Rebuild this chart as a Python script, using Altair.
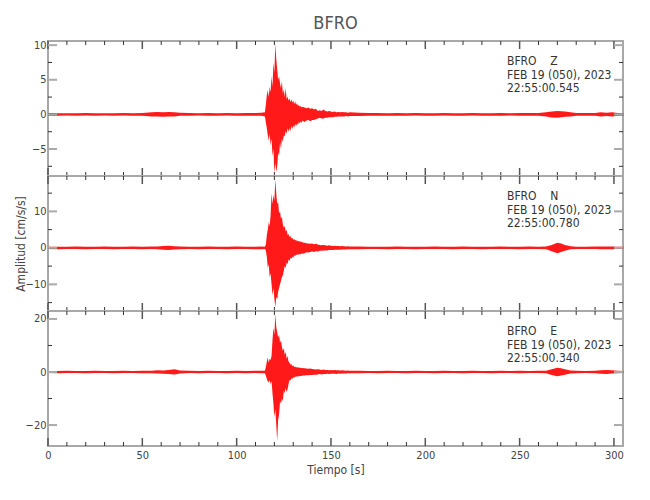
import altair as alt
import pandas as pd

FONT = "Liberation Sans Narrow, DejaVu Sans Condensed, sans-serif"
RED = "#ff0000"

# ---- time axis of the envelope knots (s) ----
TIME_PRE = [0, 5, 10, 15, 20, 25, 30, 35, 40, 45, 50, 55, 58, 61, 64, 67, 70,
            75, 80, 85, 90, 95, 100, 105, 110, 113]
TIME_EVENT = [115, 115.5, 116, 116.5, 117, 117.5, 118, 118.5, 119, 119.5, 120,
              120.5, 121, 121.5, 122, 122.5, 123, 123.5, 124, 124.5, 125, 125.5,
              126, 126.5, 127, 127.5, 128, 128.5, 129, 129.5, 130, 130.5, 131,
              131.5, 132, 132.5, 133, 133.5, 134, 134.5, 135]
TIME_CODA = [136, 137, 138, 139, 140, 141, 142, 143, 144, 145, 146, 147, 148,
             149, 150, 151, 152, 153, 154, 155, 156, 157, 158, 159, 160]
TIME_POST = [165, 170, 175, 180, 185, 190, 195, 200, 205, 210, 215, 220, 225,
             230, 235, 240, 245, 250, 255, 260,
             264, 267, 270, 272, 274, 277, 280,
             285, 290, 293, 296, 299, 302, 305]

# ---- Z component: upper / lower envelope (cm/s/s) ----
Z_UP_PRE = [0.15, 0.15, 0.18, 0.15, 0.2, 0.15, 0.18, 0.15, 0.2, 0.18, 0.2, 0.3, 0.35,
            0.3, 0.35, 0.3, 0.25, 0.2, 0.18, 0.2, 0.15, 0.2, 0.18, 0.2, 0.2, 0.25]
Z_LO_PRE = [-0.15, -0.18, -0.15, -0.18, -0.15, -0.2, -0.15, -0.18, -0.15, -0.2, -0.18,
            -0.3, -0.3, -0.35, -0.3, -0.3, -0.2, -0.2, -0.15, -0.18, -0.2, -0.15, -0.2,
            -0.18, -0.2, -0.2]
Z_UP_EVENT = [0.3, 1.5, 2.8, 3.5, 2.5, 4.0, 3.2, 5.5, 4.0, 7.5, 6.0, 10.2, 8.0, 6.5,
              5.0, 5.5, 4.5, 3.8, 4.8, 3.0, 3.6, 2.5, 3.8, 2.2, 2.6, 2.0, 2.3, 1.8,
              2.2, 1.7, 2.0, 1.5, 1.9, 1.4, 1.6, 1.2, 1.4, 1.1, 1.2, 1.0, 1.1]
Z_LO_EVENT = [-0.3, -1.2, -2.0, -3.0, -3.8, -2.8, -4.5, -3.5, -6.0, -5.0, -8.5, -7.0,
              -8.3, -7.5, -5.5, -6.0, -4.0, -5.0, -3.5, -4.0, -3.0, -3.2, -2.4, -2.8,
              -2.0, -2.5, -2.0, -2.4, -1.7, -2.1, -1.6, -1.9, -1.4, -1.7, -1.3, -1.5,
              -1.1, -1.3, -1.0, -1.2, -0.9]
Z_UP_CODA = [1.0, 0.9, 1.0, 0.8, 0.9, 0.7, 0.8, 0.5, 0.6, 0.5, 0.7, 0.5, 0.4, 0.5,
             0.4, 0.35, 0.4, 0.3, 0.35, 0.3, 0.35, 0.3, 0.3, 0.25, 0.3]
Z_LO_CODA = [-1.1, -0.9, -0.8, -1.0, -0.8, -0.8, -0.7, -0.6, -0.5, -0.6, -0.6, -0.5,
             -0.5, -0.4, -0.4, -0.4, -0.35, -0.35, -0.3, -0.3, -0.3, -0.3, -0.25,
             -0.3, -0.25]
Z_UP_POST = [0.25, 0.2, 0.2, 0.18, 0.2, 0.18, 0.2, 0.15, 0.18, 0.2, 0.15, 0.18, 0.2,
             0.18, 0.15, 0.2, 0.18, 0.2, 0.2, 0.2,
             0.3, 0.4, 0.5, 0.45, 0.4, 0.3, 0.2,
             0.2, 0.2, 0.3, 0.25, 0.3, 0.2, 0.18]
Z_LO_POST = [-0.25, -0.2, -0.18, -0.2, -0.18, -0.2, -0.15, -0.2, -0.18, -0.15, -0.2,
             -0.18, -0.15, -0.2, -0.18, -0.2, -0.15, -0.2, -0.18, -0.2,
             -0.3, -0.45, -0.5, -0.4, -0.35, -0.3, -0.2,
             -0.18, -0.2, -0.3, -0.25, -0.3, -0.2, -0.18]

# ---- N component ----
N_UP_PRE = [0.3, 0.3, 0.3, 0.35, 0.3, 0.3, 0.35, 0.3, 0.3, 0.35, 0.3, 0.35, 0.4, 0.5,
            0.6, 0.45, 0.35, 0.3, 0.3, 0.35, 0.3, 0.3, 0.35, 0.3, 0.3, 0.35]
N_LO_PRE = [-0.3, -0.35, -0.3, -0.3, -0.35, -0.3, -0.3, -0.35, -0.3, -0.3, -0.35, -0.3,
            -0.4, -0.5, -0.6, -0.45, -0.35, -0.3, -0.35, -0.3, -0.3, -0.35, -0.3, -0.3,
            -0.35, -0.35]
N_UP_EVENT = [0.3, 1.0, 3.5, 5.0, 7.0, 6.0, 9.0, 15.0, 12.0, 14.5, 13.0, 18.8, 15.0,
              12.0, 12.5, 9.5, 10.0, 8.0, 8.5, 6.5, 5.5, 6.0, 4.5, 5.0, 3.5, 3.8, 3.0,
              3.3, 2.6, 2.8, 2.2, 2.4, 2.0, 2.2, 1.8, 2.0, 1.7, 1.9, 1.6, 1.7, 1.5]
N_LO_EVENT = [-0.3, -0.8, -2.5, -5.5, -4.5, -8.0, -7.0, -10.0, -13.0, -11.0, -14.0,
              -16.2, -13.5, -14.0, -12.0, -11.0, -10.0, -9.0, -8.0, -7.5, -6.3, -5.0,
              -5.5, -4.0, -4.5, -3.2, -3.6, -2.8, -3.0, -2.4, -2.7, -2.0, -2.3, -1.8,
              -2.0, -1.7, -1.9, -1.6, -1.8, -1.5, -1.6]
N_UP_CODA = [1.4, 1.3, 1.2, 1.1, 1.2, 1.0, 1.1, 0.9, 0.8, 0.7, 0.8, 0.7, 0.6, 0.7,
             0.6, 0.5, 0.6, 0.5, 0.5, 0.45, 0.5, 0.45, 0.4, 0.45, 0.4]
N_LO_CODA = [-1.5, -1.2, -1.3, -1.1, -1.0, -1.1, -0.9, -1.0, -0.8, -0.8, -0.7, -0.7,
             -0.7, -0.6, -0.6, -0.6, -0.5, -0.5, -0.5, -0.5, -0.45, -0.45, -0.45,
             -0.4, -0.4]
N_UP_POST = [0.35, 0.3, 0.3, 0.3, 0.35, 0.3, 0.3, 0.3, 0.35, 0.3, 0.3, 0.35, 0.3, 0.3,
             0.3, 0.35, 0.3, 0.3, 0.35, 0.3,
             0.35, 0.8, 1.4, 1.2, 0.8, 0.45, 0.3,
             0.3, 0.35, 0.4, 0.35, 0.4, 0.3, 0.3]
N_LO_POST = [-0.35, -0.3, -0.3, -0.35, -0.3, -0.3, -0.35, -0.3, -0.3, -0.3, -0.35,
             -0.3, -0.3, -0.35, -0.3, -0.3, -0.3, -0.35, -0.3, -0.3,
             -0.35, -0.9, -1.5, -1.1, -0.8, -0.4, -0.3,
             -0.3, -0.3, -0.4, -0.35, -0.4, -0.3, -0.3]

# ---- E component ----
E_UP_PRE = [0.4, 0.4, 0.45, 0.4, 0.4, 0.45, 0.4, 0.4, 0.45, 0.4, 0.45, 0.5, 0.7, 0.6,
            0.8, 1.0, 0.6, 0.45, 0.4, 0.45, 0.4, 0.4, 0.45, 0.4, 0.45, 0.5]
E_LO_PRE = [-0.4, -0.45, -0.4, -0.4, -0.45, -0.4, -0.4, -0.45, -0.4, -0.4, -0.45,
            -0.5, -0.6, -0.7, -0.8, -0.9, -0.6, -0.4, -0.45, -0.4, -0.4, -0.45, -0.4,
            -0.45, -0.4, -0.5]
E_UP_EVENT = [0.5, 2.0, 4.0, 5.5, 3.5, 5.0, 4.5, 6.0, 12.0, 16.7, 14.0, 21.8, 17.0,
              15.0, 13.0, 14.0, 11.0, 12.0, 9.5, 8.0, 9.0, 6.5, 7.5, 5.0, 6.0, 4.0,
              3.5, 2.8, 3.0, 2.2, 2.5, 1.9, 2.1, 1.7, 1.9, 1.6, 1.8, 1.5, 1.6, 1.4, 1.5]
E_LO_EVENT = [-0.5, -1.5, -2.5, -3.5, -4.0, -3.0, -4.5, -3.5, -8.0, -12.0, -17.0,
              -14.0, -20.0, -26.0, -18.0, -16.0, -11.0, -12.0, -10.0, -11.0, -7.0,
              -8.0, -6.0, -7.5, -6.5, -4.5, -3.0, -3.2, -2.4, -2.6, -2.0, -2.2, -1.7,
              -1.9, -1.5, -1.8, -1.5, -1.6, -1.4, -1.5, -1.3]
E_UP_CODA = [1.4, 1.3, 1.2, 1.3, 1.1, 1.0, 0.9, 1.0, 0.9, 0.8, 0.9, 0.8, 0.8, 0.7,
             0.8, 0.7, 0.8, 0.7, 0.7, 0.6, 0.7, 0.6, 0.5, 0.6, 0.5]
E_LO_CODA = [-1.3, -1.2, -1.2, -1.1, -1.1, -1.0, -1.0, -0.9, -0.8, -0.9, -0.8, -0.8,
             -0.7, -0.8, -0.7, -0.7, -0.7, -0.8, -0.6, -0.7, -0.6, -0.6, -0.6, -0.5,
             -0.5]
E_UP_POST = [0.45, 0.4, 0.4, 0.45, 0.4, 0.4, 0.45, 0.4, 0.4, 0.45, 0.4, 0.4, 0.45,
             0.4, 0.4, 0.45, 0.4, 0.45, 0.4, 0.45,
             0.5, 1.0, 1.6, 1.4, 1.0, 0.6, 0.45,
             0.4, 0.5, 0.7, 0.8, 0.7, 0.5, 0.4]
E_LO_POST = [-0.45, -0.4, -0.45, -0.4, -0.4, -0.45, -0.4, -0.4, -0.45, -0.4, -0.4,
             -0.45, -0.4, -0.4, -0.45, -0.4, -0.4, -0.45, -0.4, -0.4,
             -0.5, -1.1, -1.6, -1.3, -1.0, -0.6, -0.45,
             -0.4, -0.5, -0.7, -0.8, -0.6, -0.5, -0.4]

# short dark stretch at the start of each trace
BLACK_T = [0, 4]
BLACK_V = [0, 0]

X_DOMAIN = [0, 304.8]
X_MAJOR = [0, 50, 100, 150, 200, 250, 300]
X_MINOR = [10, 20, 30, 40, 60, 70, 80, 90, 110, 120, 130, 140, 160, 170, 180, 190,
           210, 220, 230, 240, 260, 270, 280, 290]

Z_DOMAIN = [-8.9, 10.6]
Z_MAJOR = [-5, 0, 5, 10]
Z_MINOR = [-7.5, -2.5, 2.5, 7.5]
N_DOMAIN = [-17.3, 19.7]
N_MAJOR = [-10, 0, 10]
N_MINOR = [-15, -5, 5, 15]
E_DOMAIN = [-27.9, 23.0]
E_MAJOR = [-20, 0, 20]
E_MINOR = [-10, 10]

Z_TEXT = ["BFRO\u00a0\u00a0\u00a0\u00a0Z", "FEB 19 (050), 2023", "22:55:00.545"]
N_TEXT = ["BFRO\u00a0\u00a0\u00a0\u00a0N", "FEB 19 (050), 2023", "22:55:00.780"]
E_TEXT = ["BFRO\u00a0\u00a0\u00a0\u00a0E", "FEB 19 (050), 2023", "22:55:00.340"]

TIME = TIME_PRE + TIME_EVENT + TIME_CODA + TIME_POST

PANELS = [
    dict(up=Z_UP_PRE + Z_UP_EVENT + Z_UP_CODA + Z_UP_POST,
         lo=Z_LO_PRE + Z_LO_EVENT + Z_LO_CODA + Z_LO_POST,
         domain=Z_DOMAIN, major=Z_MAJOR, minor=Z_MINOR, text=Z_TEXT),
    dict(up=N_UP_PRE + N_UP_EVENT + N_UP_CODA + N_UP_POST,
         lo=N_LO_PRE + N_LO_EVENT + N_LO_CODA + N_LO_POST,
         domain=N_DOMAIN, major=N_MAJOR, minor=N_MINOR, text=N_TEXT),
    dict(up=E_UP_PRE + E_UP_EVENT + E_UP_CODA + E_UP_POST,
         lo=E_LO_PRE + E_LO_EVENT + E_LO_CODA + E_LO_POST,
         domain=E_DOMAIN, major=E_MAJOR, minor=E_MINOR, text=E_TEXT),
]

W, H = 575, 135
MAJ_LEN, MIN_LEN = 8, 4


def build(i, p):
    xs = alt.Scale(domain=X_DOMAIN, nice=False, zero=False)
    ys = alt.Scale(domain=p["domain"], nice=False, zero=False)
    df = pd.DataFrame({"t": TIME, "up": p["up"], "lo": p["lo"]})
    last = i == 2
    if last:
        xaxis = alt.Axis(values=X_MAJOR, ticks=False, domain=False, grid=False,
                         title="Tiempo [s]", labelPadding=3, titlePadding=4,
                         labelFlush=False, format="d")
    else:
        xaxis = alt.Axis(values=X_MAJOR, ticks=False, domain=False, grid=False,
                         labels=False, title=None)
    if i == 1:
        yaxis = alt.Axis(values=p["major"], ticks=False, domain=False, grid=False,
                         title="Amplitud [cm/s/s]", titleX=-21,
                         labelPadding=2, format="d")
    else:
        yaxis = alt.Axis(values=p["major"], ticks=False, domain=False, grid=False,
                         title=None, labelPadding=2, format="d")
    X = lambda f: alt.X(f, scale=xs, axis=xaxis)
    Y = lambda f: alt.Y(f, scale=ys, axis=yaxis)

    area = alt.Chart(df).mark_area(color=RED, opacity=0.9).encode(
        x=X("t:Q"), y=Y("up:Q"), y2="lo:Q")
    black = alt.Chart(pd.DataFrame({"t": BLACK_T, "up": BLACK_V})).mark_line(
        color="#000000", strokeWidth=1.5).encode(x=X("t:Q"), y=Y("up:Q"))

    layers = [area, black]
    for vals, ln, col, sw in [(X_MAJOR, MAJ_LEN, "#555555", 1.5),
                              (X_MINOR, MIN_LEN, "#333333", 1)]:
        base = alt.Chart(pd.DataFrame({"t": vals})).mark_rule(color=col, strokeWidth=sw)
        layers.append(base.encode(x=X("t:Q"), y=alt.value(0), y2=alt.value(ln)))
        layers.append(base.encode(x=X("t:Q"), y=alt.value(H), y2=alt.value(H - ln)))
    for vals, ln, col, sw in [(p["major"], MAJ_LEN + 1, "#aaaaaa", 2),
                              (p["minor"], MIN_LEN, "#333333", 1)]:
        base = alt.Chart(pd.DataFrame({"up": vals})).mark_rule(color=col, strokeWidth=sw)
        layers.append(base.encode(y=Y("up:Q"), x=alt.value(0), x2=alt.value(ln)))
        layers.append(base.encode(y=Y("up:Q"), x=alt.value(W), x2=alt.value(W - ln)))

    txt = alt.Chart(pd.DataFrame({"k": [0]})).mark_text(
        text=p["text"], align="left", baseline="top", font=FONT, fontSize=12,
        color="#333333", lineHeight=13.5).encode(x=alt.value(459), y=alt.value(15))
    layers.append(txt)

    ch = alt.layer(*layers).properties(width=W, height=H)
    if i == 0:
        ch = ch.properties(title=alt.TitleParams(
            "BFRO", fontSize=18, font=FONT, color="#555555", fontWeight="normal",
            offset=6, anchor="middle"))
    return ch


chart = alt.vconcat(*[build(i, p) for i, p in enumerate(PANELS)], spacing=0,
                    bounds="flush").properties(
    padding={"left": 4, "top": 6, "right": 5, "bottom": 5}
).configure_view(stroke="#a8a8a8", strokeWidth=2).configure_axis(
    labelFont=FONT, labelFontSize=11, labelColor="#444444",
    titleFont=FONT, titleFontSize=12, titleColor="#444444", titleFontWeight="normal"
)

chart.save("out.html", embed_options={"renderer": "svg", "actions": False})
